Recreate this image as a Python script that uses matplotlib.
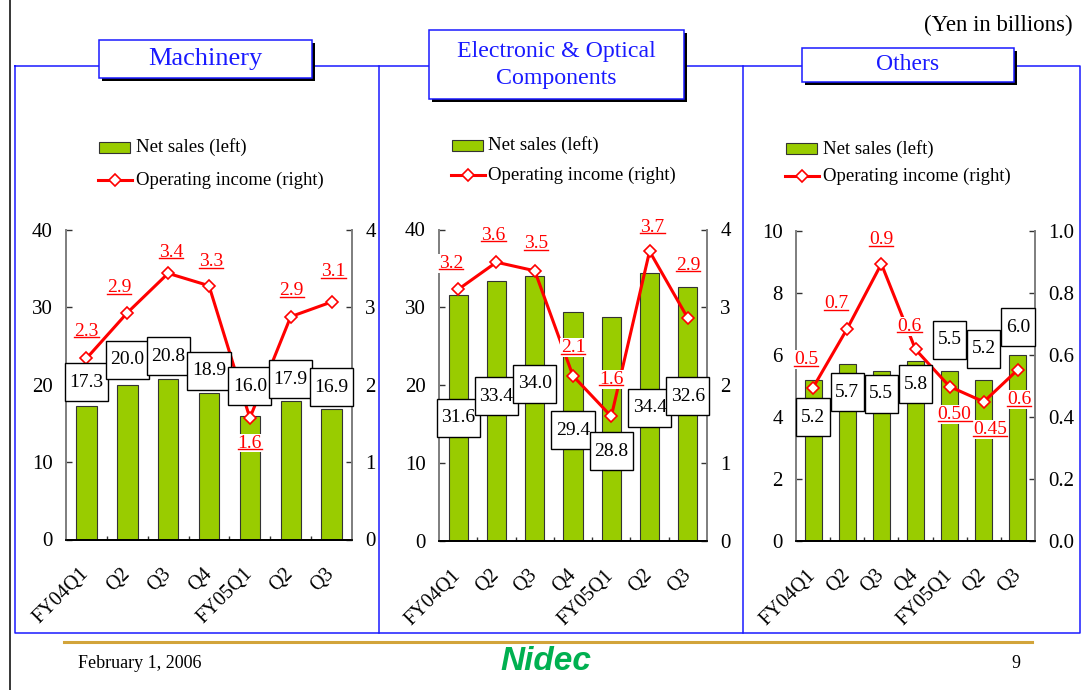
import matplotlib
matplotlib.use("Agg")
import matplotlib.pyplot as plt
from matplotlib.patches import Rectangle
from matplotlib.lines import Line2D
from matplotlib.transforms import IdentityTransform

plt.rcParams["font.family"] = ["Liberation Serif", "DejaVu Serif"]

# ---- data ----
quarters = ["FY04Q1", "Q2", "Q3", "Q4", "FY05Q1", "Q2", "Q3"]

mach_sales = [17.3, 20.0, 20.8, 18.9, 16.0, 17.9, 16.9]
mach_income = [2.34, 2.93, 3.44, 3.28, 1.57, 2.88, 3.07]
mach_income_lbl = ["2.3", "2.9", "3.4", "3.3", "1.6", "2.9", "3.1"]

elec_sales = [31.6, 33.4, 34.0, 29.4, 28.8, 34.4, 32.6]
elec_income = [3.23, 3.58, 3.47, 2.12, 1.60, 3.72, 2.86]
elec_income_lbl = ["3.2", "3.6", "3.5", "2.1", "1.6", "3.7", "2.9"]

oth_sales = [5.2, 5.7, 5.5, 5.8, 5.5, 5.2, 6.0]
oth_income = [0.495, 0.685, 0.894, 0.618, 0.498, 0.449, 0.553]
oth_income_lbl = ["0.5", "0.7", "0.9", "0.6", "0.50", "0.45", "0.6"]

BAR = "#99cc00"
RED = "#ff0000"
BLUE = "#1a1aff"
GOLD = "#d2a43a"

W, H = 1082, 690
fig = plt.figure(figsize=(W / 100, H / 100), dpi=100)


def fx(x):
    return x / W


def fy(y):
    return 1 - y / H


def fline(xs, ys, **kw):
    fig.add_artist(Line2D([fx(x) for x in xs], [fy(y) for y in ys],
                          transform=fig.transFigure, **kw))


# layout per panel (pixel coords, top-left origin)
panels = [
    dict(title="Machinery", tsize=19, sales=mach_sales, income=mach_income,
         labels=mach_income_lbl, rect=(66, 230, 352, 539.5),
         ylim=40, ystep=10, y2lim=4, y2step=1, y2fmt="{:.0f}",
         tbox=(99.3, 40.3, 311.7, 78.3), leg=(99.3, 147.2, 180, 136),
         sales_y=[20.3, 23.2, 23.7, 21.8, 19.8, 20.7, 19.7],
         off=[(0, 27), (-8, 25), (3, 21), (2, 24), (0, -25), (1, 26), (2, 30)]),
    dict(title="Electronic & Optical\nComponents", tsize=17.2, sales=elec_sales,
         income=elec_income, labels=elec_income_lbl, rect=(439, 229.5, 707, 541),
         ylim=40, ystep=10, y2lim=4, y2step=1, y2fmt="{:.0f}",
         tbox=(429.3, 30, 684, 99.3), leg=(451.7, 145.5, 175, 488.3),
         sales_y=[15.8, 18.6, 20.2, 14.2, 11.5, 17.1, 18.6],
         off=[(-7, 26), (-3, 27), (1, 27), (0, 28), (0, 37), (3, 24), (0, 53)]),
    dict(title="Others", tsize=17, sales=oth_sales, income=oth_income,
         labels=oth_income_lbl, rect=(796, 231, 1035, 541),
         ylim=10, ystep=2, y2lim=1.0, y2step=0.2, y2fmt="{:.1f}",
         tbox=(802, 47.7, 1014, 82.3), leg=(786, 148.7, 176, 822.7),
         sales_y=[4.0, 4.8, 4.75, 5.05, 6.5, 6.2, 6.9],
         off=[(-7, 28), (-11, 25), (0, 24), (-6, 23), (5, -28), (6, -28), (1, -30)]),
]

# ---- frames ----
fline([10, 10], [0, 690], color="black", lw=1.1)
fline([15, 1080, 1080, 15, 15], [66, 66, 633, 633, 66], color=BLUE, lw=1.1)
fline([379, 379], [66, 633], color=BLUE, lw=1.1)
fline([743, 743], [66, 633], color=BLUE, lw=1.1)
fline([64, 1032], [641.5, 641.5], color=GOLD, lw=2.2)

box_texts = []
inc_texts = []

for p in panels:
    x0, y0, x1, y1 = p["rect"]
    ax1 = fig.add_axes([fx(x0), fy(y1), (x1 - x0) / W, (y1 - y0) / H])
    ax2 = ax1.twinx()
    xs = list(range(len(quarters)))

    ax1.bar(xs, p["sales"], width=0.5, color=BAR, edgecolor="#333333", lw=0.8, zorder=2)
    ax2.plot(xs, p["income"], color=RED, lw=2.2, marker="D", ms=6.3,
             mfc="white", mec=RED, mew=1.2, zorder=3)

    ax1.set_xlim(-0.5, len(quarters) - 0.5)
    ax1.set_ylim(0, p["ylim"])
    ax2.set_ylim(0, p["y2lim"])
    n = int(round(p["ylim"] / p["ystep"]))
    ax1.set_yticks([p["ystep"] * i for i in range(n + 1)])
    ax2.set_yticks([p["y2step"] * i for i in range(n + 1)])
    ax2.set_yticklabels([p["y2fmt"].format(p["y2step"] * i) for i in range(n + 1)])

    ax1.set_xticks(xs)
    ax1.set_xticklabels(quarters)
    ax1.set_xticks([i + 0.5 for i in xs[:-1]], minor=True)
    ax1.tick_params(axis="x", which="major", length=0, pad=22.7, labelsize=14.5)
    ax1.tick_params(axis="x", which="minor", direction="in", length=3, width=1, color="#333333")
    plt.setp(ax1.get_xticklabels(), rotation=45, ha="right", va="center",
             rotation_mode="anchor")
    ax1.tick_params(axis="y", direction="in", length=4.3, width=1, color="#333333",
                    labelsize=15, pad=9.5)
    ax2.tick_params(axis="y", direction="in", length=4.3, width=1, color="#333333",
                    labelsize=15, pad=9.5)

    for ax in (ax1, ax2):
        ax.spines["top"].set_visible(False)
        ax.spines["left"].set_color("#808080")
        ax.spines["right"].set_color("#808080")
        ax.spines["left"].set_linewidth(1.3)
        ax.spines["right"].set_linewidth(1.3)
        ax.spines["bottom"].set_color("black")
        ax.spines["bottom"].set_linewidth(1.3)
        ax.patch.set_visible(False)

    # net sales labels (boxes are drawn after layout)
    for i, v in enumerate(p["sales"]):
        t = ax2.text(i, p["sales_y"][i], f"{v:.1f}", transform=ax1.transData,
                     ha="center", va="center", fontsize=14, zorder=6, clip_on=False)
        box_texts.append((ax2, t))

    # operating income labels
    for i, v in enumerate(p["income"]):
        dx, dy = p["off"][i]
        t = ax2.annotate(p["labels"][i], xy=(i, v), xytext=(dx * 0.72, dy * 0.72),
                         textcoords="offset points", ha="center", va="center",
                         color=RED, fontsize=14, zorder=7, annotation_clip=False,
                         bbox=dict(boxstyle="square,pad=0.05", fc="white", ec="none"))
        inc_texts.append((ax2, t))

    # title box with shadow
    bx0, by0, bx1, by1 = p["tbox"]
    fig.add_artist(Rectangle((fx(bx0 + 3), fy(by1 + 3)), (bx1 - bx0) / W, (by1 - by0) / H,
                             transform=fig.transFigure, fc="black", ec="none", zorder=3))
    fig.add_artist(Rectangle((fx(bx0), fy(by1)), (bx1 - bx0) / W, (by1 - by0) / H,
                             transform=fig.transFigure, fc="white", ec=BLUE, lw=1.1, zorder=4))
    fig.text(fx((bx0 + bx1) / 2), fy((by0 + by1) / 2), p["title"], ha="center",
             va="center", color=BLUE, fontsize=p["tsize"], linespacing=1.38, zorder=5)

    # legend
    lx, ly1, ly2, tx = p["leg"]
    fig.add_artist(Rectangle((fx(lx), fy(ly1 + 5.5)), 31 / W, 11 / H,
                             transform=fig.transFigure, fc=BAR, ec="#333333", lw=0.8))
    fig.add_artist(Line2D([fx(lx - 1), fx(lx + 33)], [fy(ly2), fy(ly2)],
                          transform=fig.transFigure, color=RED, lw=2.2))
    fig.add_artist(Line2D([fx(lx + 16)], [fy(ly2)], transform=fig.transFigure,
                          marker="D", ms=6.3, mfc="white", mec=RED, mew=1.2))
    fig.text(fx(tx), fy(ly1), "Net sales (left)", ha="left", va="center", fontsize=13.5)
    fig.text(fx(tx), fy(ly2), "Operating income (right)", ha="left", va="center",
             fontsize=13.5)

fig.text(fx(1073), fy(25), "(Yen in billions)", ha="right", va="center", fontsize=16.5)
fig.text(fx(78), fy(663), "February 1, 2006", ha="left", va="center", fontsize=13)
fig.text(fx(1016), fy(663), "9", ha="center", va="center", fontsize=13)
fig.text(fx(546), fy(662), "Nidec", ha="center", va="center", fontsize=24,
         color="#00b050", family="Liberation Sans", weight="bold", style="italic")

# second pass: boxes around sales labels, underlines under income labels
fig.canvas.draw()
renderer = fig.canvas.get_renderer()
for ax, t in box_texts:
    bb = t.get_window_extent(renderer)
    cx, cy = (bb.x0 + bb.x1) / 2, (bb.y0 + bb.y1) / 2
    w, h = bb.width + 9, 38
    ax.add_patch(Rectangle((cx - w / 2, cy - h / 2), w, h, transform=IdentityTransform(),
                           fc="white", ec="black", lw=1.0, zorder=5, clip_on=False))
for ax, t in inc_texts:
    bb = t.get_window_extent(renderer)
    ax.add_line(Line2D([bb.x0, bb.x1], [bb.y0 + 2.5, bb.y0 + 2.5],
                       transform=IdentityTransform(), color=RED, lw=1.0,
                       zorder=8, clip_on=False))

fig.savefig("out.png", dpi=100)
